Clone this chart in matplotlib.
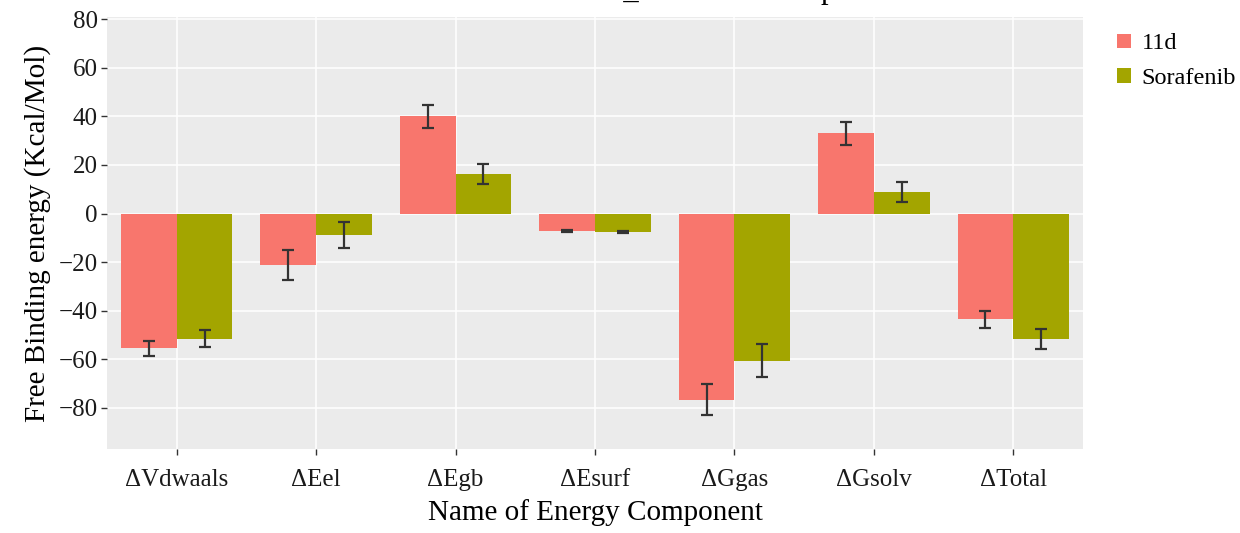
import matplotlib
matplotlib.use("Agg")
import matplotlib.pyplot as plt
import numpy as np
from matplotlib.patches import Patch

categories = ["ΔVdwaals", "ΔEel", "ΔEgb", "ΔEsurf", "ΔGgas", "ΔGsolv", "ΔTotal"]
series_names = ["11d", "Sorafenib"]
values_11d = [-55.5, -21.0, 40.0, -7.2, -76.6, 33.0, -43.6]
err_11d = [3.2, 6.2, 4.8, 0.3, 6.3, 4.8, 3.7]
values_sora = [-51.6, -8.9, 16.3, -7.5, -60.5, 8.8, -51.6]
err_sora = [3.5, 5.4, 4.2, 0.4, 6.7, 4.0, 4.2]
colors = ["#F8766D", "#A3A500"]
title_text = "MMGBSA Results_VEGFR2 Complex"

plt.rcParams['font.family'] = ['Liberation Serif', 'DejaVu Serif']

fig = plt.figure(figsize=(12.4, 5.33), dpi=100)
ax = fig.add_axes([107/1240, 1-449/533, (1083-107)/1240, (449-17)/533])
ax.set_facecolor("#EBEBEB")

x = np.arange(len(categories))
w = 0.4
for i, (vals, errs) in enumerate([(values_11d, err_11d), (values_sora, err_sora)]):
    pos = x + (i - 0.5) * w
    ax.bar(pos, vals, width=w, color=colors[i], zorder=2)
    ax.errorbar(pos, vals, yerr=errs, fmt='none', ecolor="#333333",
                elinewidth=1.6, capsize=4.5, capthick=1.6, zorder=3)

ax.set_xlim(-0.5, len(categories) - 0.5)
ax.set_ylim(-96.9, 80.9)
ax.set_yticks(np.arange(-80, 81, 20))
ax.set_yticklabels([str(v).replace('-', '\u2212') for v in range(-80, 81, 20)])
ax.set_xticks(x)
ax.set_xticklabels(categories)
ax.grid(True, color="white", linewidth=1.1, zorder=0)
ax.set_axisbelow(True)
for s in ax.spines.values():
    s.set_visible(False)
ax.tick_params(axis='both', length=4.5, width=1, color="#333333",
               labelsize=18, labelcolor="#1a1a1a", pad=2)
ax.tick_params(axis='x', pad=10)

ax.set_xlabel("Name of Energy Component", fontsize=21, labelpad=6, color="black")
ax.set_ylabel("Free Binding energy (Kcal/Mol)", fontsize=21, labelpad=6, color="black")

handles = [Patch(facecolor=colors[i], edgecolor='none', label=series_names[i]) for i in range(2)]
leg = fig.legend(handles=handles, loc='upper left', bbox_to_anchor=(1115/1240, 1-31/533),
                 frameon=False, fontsize=17.5, handlelength=0.55, handleheight=0.55,
                 handletextpad=0.45, labelspacing=0.55, borderpad=0.1, borderaxespad=0)

fig.text(633/1240, 1 + 2/533, title_text, ha='center', va='baseline', fontsize=22)

fig.savefig("out.png", dpi=100)
